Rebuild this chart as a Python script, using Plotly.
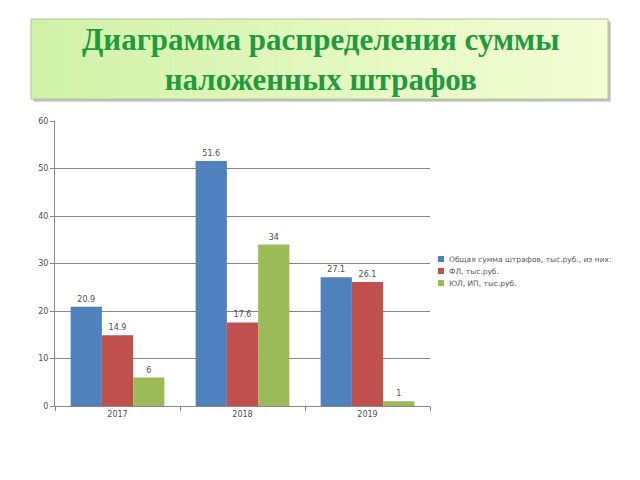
import plotly.graph_objects as go

years = ["2017", "2018", "2019"]
total = [20.9, 51.6, 27.1]
fl = [14.9, 17.6, 26.1]
ul = [6, 34, 1]
series_names = ["Общая сумма штрафов, тыс.руб., из них:", "ФЛ, тыс.руб.", "ЮЛ, ИП, тыс.руб."]
colors = ["#4f81bd", "#c0504d", "#9bbb59"]
title_lines = ["Диаграмма распределения суммы", "наложенных штрафов"]

fig = go.Figure()
for name, vals, col in zip(series_names, [total, fl, ul], colors):
    fig.add_trace(go.Bar(
        x=years, y=vals, name=name,
        marker=dict(color=col, line=dict(width=0)),
        text=[f"{v:g}" for v in vals], textposition="outside",
        textfont=dict(size=8, color="#505050", family="DejaVu Sans"),
        cliponaxis=False, showlegend=False,
    ))

W, H = 640, 480
def px(x):
    return x / W
def py(y):
    return 1 - y / H

shapes = []
# title box shadow
shapes.append(dict(type="rect", xref="paper", yref="paper",
                   x0=px(34), x1=px(611), y0=py(102), y1=py(22),
                   fillcolor="rgba(140,140,140,0.35)", line=dict(width=0), layer="below"))
shapes.append(dict(type="rect", xref="paper", yref="paper",
                   x0=px(33), x1=px(610), y0=py(101), y1=py(21),
                   fillcolor="rgba(140,140,140,0.3)", line=dict(width=0), layer="below"))
# gradient strips
n = 40
x0, x1 = 31, 608
c0 = (208, 242, 168)
c1 = (244, 253, 212)
for i in range(n):
    t = i / (n - 1)
    c = tuple(int(round(c0[k] + (c1[k] - c0[k]) * t)) for k in range(3))
    xa = x0 + (x1 - x0) * i / n
    xb = x0 + (x1 - x0) * (i + 1) / n + 0.5
    shapes.append(dict(type="rect", xref="paper", yref="paper",
                       x0=px(xa), x1=px(min(xb, x1)), y0=py(99), y1=py(19),
                       fillcolor=f"rgb{c}", line=dict(width=0), layer="below"))
shapes.append(dict(type="rect", xref="paper", yref="paper",
                   x0=px(x0), x1=px(x1), y0=py(99), y1=py(19),
                   fillcolor="rgba(0,0,0,0)", line=dict(width=1, color="#b4c49c"), layer="below"))

# manual legend
leg_y = [259, 271, 283]
annotations = [dict(text="<b>" + title_lines[0] + "</b><br><b>" + title_lines[1] + "</b>",
                    xref="paper", yref="paper",
                    x=px(320), y=py(59), xanchor="center", yanchor="middle",
                    showarrow=False,
                    font=dict(family="Liberation Serif", size=31, color="#1f9a3c"))]
for name, col, yy in zip(series_names, colors, leg_y):
    shapes.append(dict(type="rect", xref="paper", yref="paper",
                       x0=px(438), x1=px(444), y0=py(yy + 3), y1=py(yy - 3),
                       fillcolor=col, line=dict(width=0)))
    annotations.append(dict(text=name, xref="paper", yref="paper",
                            x=px(447), y=py(yy), xanchor="left", yanchor="middle",
                            showarrow=False,
                            font=dict(size=7.5, color="#595959", family="DejaVu Sans")))

fig.update_layout(
    width=W, height=H,
    margin=dict(l=0, r=0, t=0, b=0),
    paper_bgcolor="white", plot_bgcolor="white",
    barmode="group", bargap=0.25, bargroupgap=0,
    shapes=shapes,
    annotations=annotations,
    xaxis=dict(domain=[px(55), px(430)], showline=True, linecolor="#878787",
               ticks="outside", tickson="boundaries", ticklen=4, tickcolor="#878787",
               tickfont=dict(size=8, color="#505050", family="DejaVu Sans"),
               showgrid=False, fixedrange=True, automargin=False),
    yaxis=dict(domain=[py(406), py(121)], range=[0, 60], dtick=10,
               showline=True, linecolor="#878787", ticks="outside", ticklen=4,
               tickcolor="#878787", gridcolor="#878787", gridwidth=1,
               tickfont=dict(size=8, color="#505050", family="DejaVu Sans"),
               zeroline=False, fixedrange=True, automargin=False),
    showlegend=False,
)

fig.write_html("out.html")
